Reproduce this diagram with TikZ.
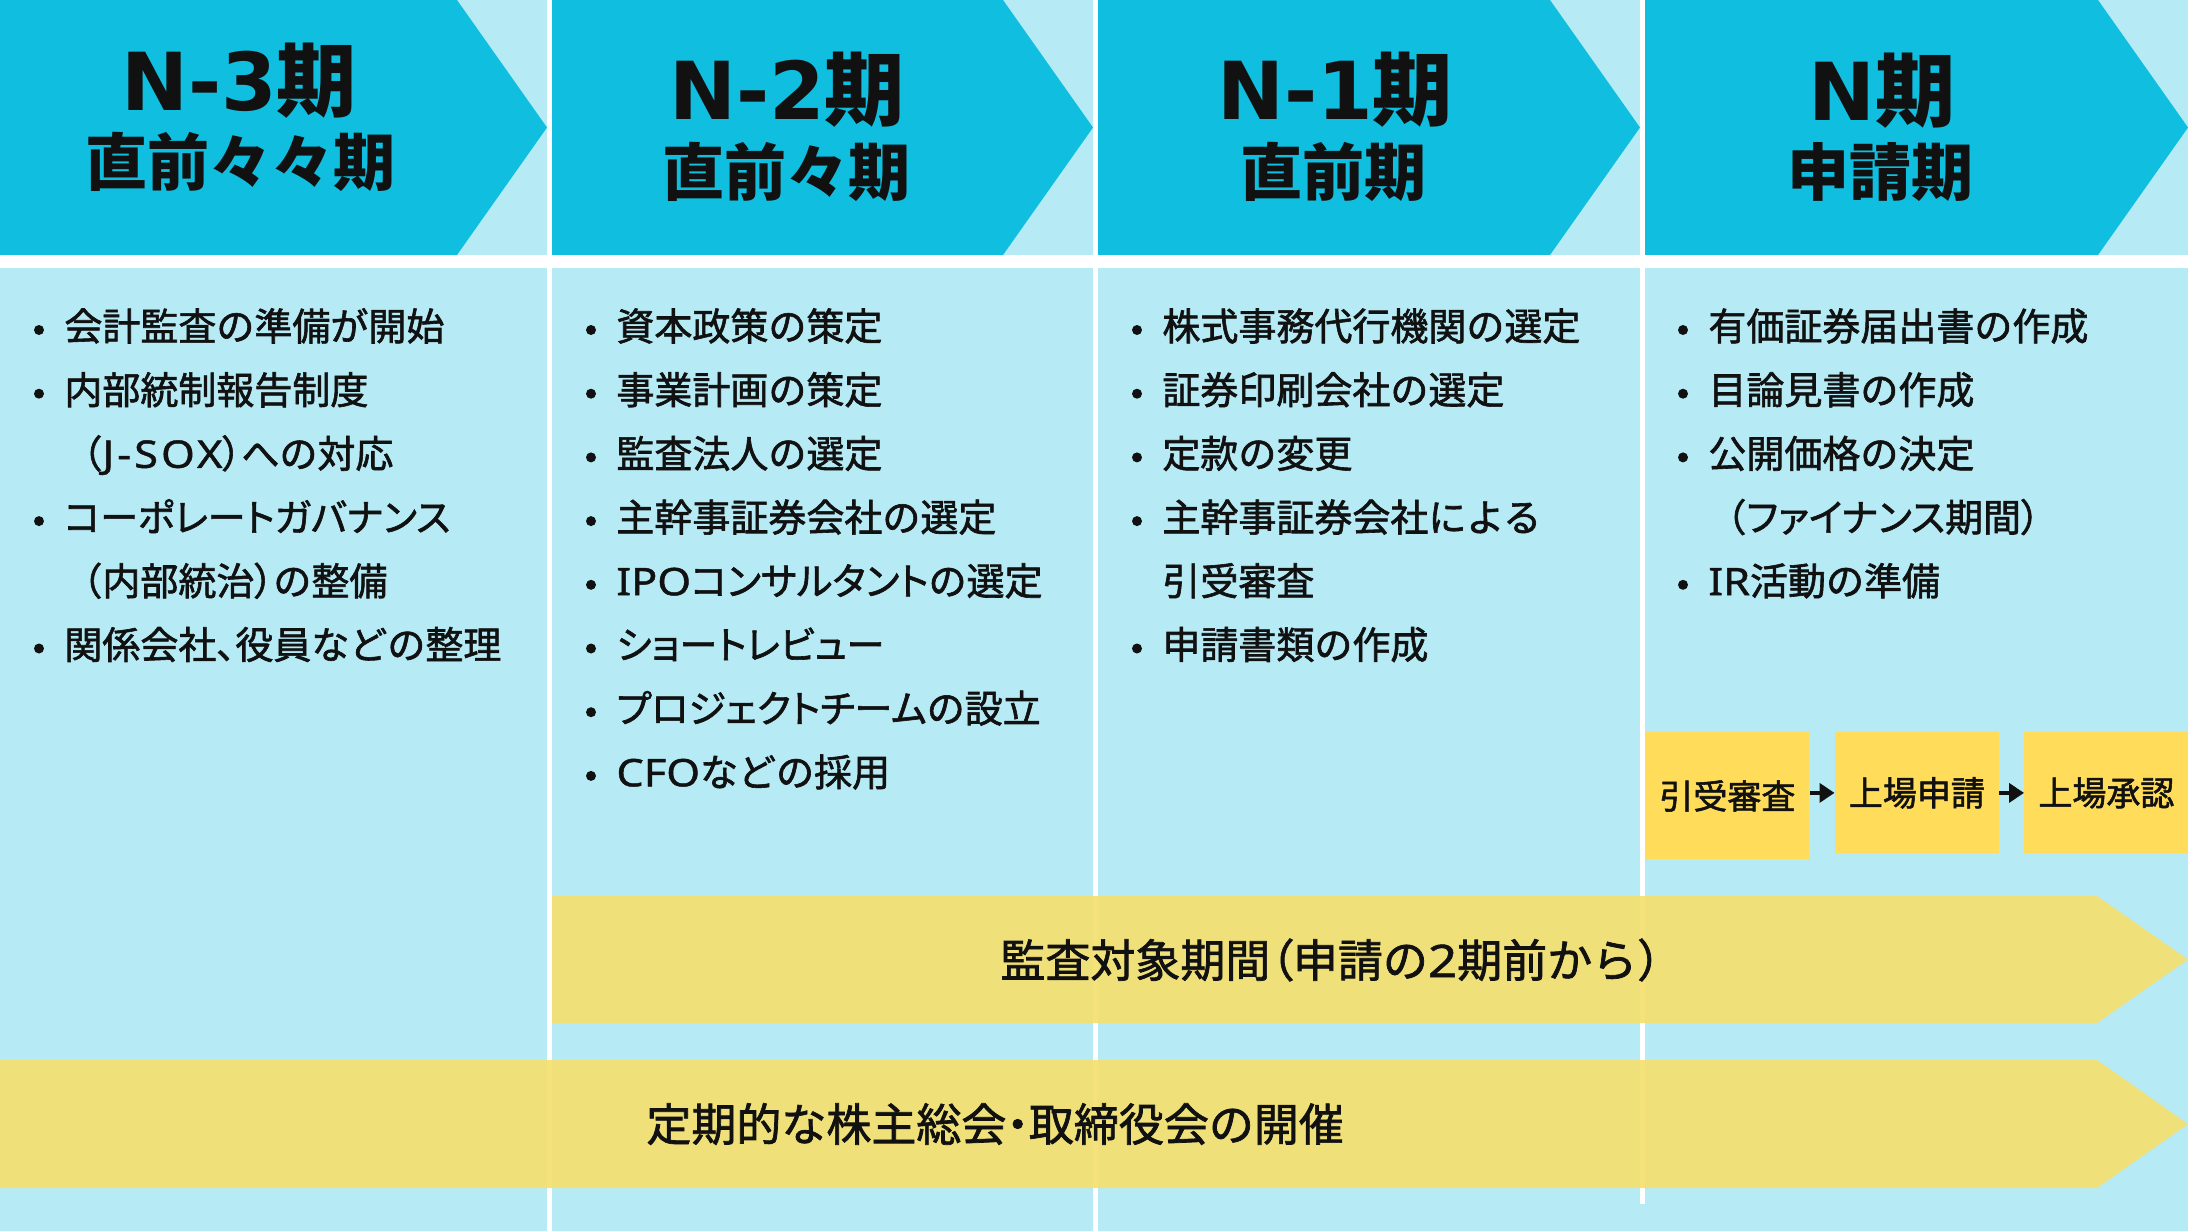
\documentclass[tikz,border=0pt]{standalone}
\usepackage{fontspec}
\usetikzlibrary{arrows.meta}
\newfontfamily\jphd{Noto Sans CJK JP}
\newfontfamily\jpbd{Noto Sans CJK JP}[FakeBold=1.6]
\newfontfamily\jpk{Noto Sans CJK JP}[FakeBold=1.6, RawFeature=+palt]
\newfontfamily\lath{DejaVu Sans}
\newfontfamily\latb{Noto Sans}[FakeBold=1.2, FakeStretch=1.14]
\newfontfamily\latw{Noto Sans}[FakeBold=1.2, FakeStretch=1.14, LetterSpace=8]
\newcommand\kk[1]{{\jpk#1}}
\newcommand\lb[1]{{\latb#1}}
\newcommand\lw[1]{{\latw#1}}
\newcommand\lh[1]{{\lath\bfseries#1}}
\definecolor{hdr}{HTML}{10BFDF}
\definecolor{bgl}{HTML}{B6EAF4}
\definecolor{barY}{RGB}{245,224,112}
\definecolor{boxY}{HTML}{FFDC5A}
\definecolor{ink}{HTML}{111111}
\tikzset{
  hdone/.style={font=\jphd\bfseries\fontsize{40pt}{40pt}\selectfont, text=ink, inner sep=0pt},
  hdtwo/.style={font=\jphd\bfseries\fontsize{31pt}{31pt}\selectfont, text=ink, inner sep=0pt},
  body/.style={font=\jpbd\fontsize{19pt}{19pt}\selectfont, text=ink, inner sep=0pt, anchor=west, text height=16.7pt, text depth=2.3pt},
  bartext/.style={font=\jpbd\fontsize{22.5pt}{22.5pt}\selectfont, text=ink, inner sep=0pt, anchor=west},
  sbox/.style={fill=boxY, inner sep=0pt, anchor=north west, minimum width=82pt, font=\jpbd\fontsize{17pt}{17pt}\selectfont, text=ink},
  arr/.style={draw=ink, line width=2pt, -{Triangle[length=7.5pt,width=9.5pt]}},
  barshape/.style={fill=barY, fill opacity=0.92},
  dot/.style={fill=ink}
}
\begin{document}
\begin{tikzpicture}[x=0.5pt,y=-0.5pt]
\useasboundingbox (0,0) rectangle (2188,1231);
\fill[bgl] (0,0) rectangle (2188,1231);
% header chevrons
\foreach \L/\R in {0/547,552/1093,1098/1640,1645/2188}
  \fill[hdr] (\L,0) -- ({\R-90},0) -- (\R,127.5) -- ({\R-90},255) -- (\L,255) -- cycle;
% white separators
\fill[white] (0,255) rectangle (2188,268);
\fill[white] (547,0) rectangle (552,1231);
\fill[white] (1093,0) rectangle (1098,1231);
\fill[white] (1640,0) rectangle (1645,1204);
% long yellow bars
\fill[barshape] (552,896) -- (2097,896) -- (2188,959.5) -- (2097,1023) -- (552,1023) -- cycle;
\fill[barshape] (0,1060) -- (2097,1060) -- (2188,1124) -- (2097,1188) -- (0,1188) -- cycle;
\node[bartext] (bar1) at (1000,960) {監査対象期間\kk{（}申請の\lb{2}期前から）};
\node[bartext] (bar2) at (646,1124) {定期的な株主総会\kk{・}取締役会の開催};
% header texts
\node[hdone] (h1a) at (239,81) {\lh{N-3}期};
\node[hdtwo] (h1b) at (240,162) {直前々々期};
\node[hdone] (h2a) at (787,90) {\lh{N-2}期};
\node[hdtwo] (h2b) at (786,172) {直前々期};
\node[hdone] (h3a) at (1335,90) {\lh{N-1}期};
\node[hdtwo] (h3b) at (1333,172) {直前期};
\node[hdone] (h4a) at (1882,91) {\lh{N}期};
\node[hdtwo] (h4b) at (1880,172) {申請期};
% column lists
\foreach \b/\t [count=\i] in {1/会計監査の準備が開始, 1/内部統制報告制度, 0/（\lw{J-SOX}\kk{）}への対応, 1/\kk{コーポレートガバナンス}, 0/（内部統治\kk{）}の整備, 1/関係会社\kk{、}役員などの整理}{
  \node[body] (a\i) at (64,{326+63.7*(\i-1)}) {\t};
  \ifnum\b=1 \fill[dot] (39,{330+63.7*(\i-1)}) circle[radius=2.5pt]; \fi
}
\foreach \b/\t [count=\i] in {1/資本政策の策定, 1/事業計画の策定, 1/監査法人の選定, 1/主幹事証券会社の選定, 1/\lb{IPO}\kk{コンサルタント}の選定, 1/\kk{ショートレビュー}, 1/\kk{プロジェクトチーム}の設立, 1/\lb{CFO}などの採用}{
  \node[body] (b\i) at (616,{326+63.7*(\i-1)}) {\t};
  \ifnum\b=1 \fill[dot] (591,{330+63.7*(\i-1)}) circle[radius=2.5pt]; \fi
}
\foreach \b/\t [count=\i] in {1/株式事務代行機関の選定, 1/証券印刷会社の選定, 1/定款の変更, 1/主幹事証券会社による, 0/引受審査, 1/申請書類の作成}{
  \node[body] (c\i) at (1162,{326+63.7*(\i-1)}) {\t};
  \ifnum\b=1 \fill[dot] (1137,{330+63.7*(\i-1)}) circle[radius=2.5pt]; \fi
}
\foreach \b/\t [count=\i] in {1/有価証券届出書の作成, 1/目論見書の作成, 1/公開価格の決定, 0/（\kk{ファイナンス}期間\kk{）}, 1/\lb{IR}活動の準備}{
  \node[body] (d\i) at (1708,{326+63.7*(\i-1)}) {\t};
  \ifnum\b=1 \fill[dot] (1683,{330+63.7*(\i-1)}) circle[radius=2.5pt]; \fi
}
% small process boxes
\node[sbox, minimum height=63.5pt] (s1) at (1645,732) {引受審査};
\node[sbox, minimum height=60.5pt] (s2) at (1834.5,732) {上場申請};
\node[sbox, minimum height=60.5pt] (s3) at (2024,732) {上場承認};
\draw[arr] (s1.east |- s2.west) -- (s2.west);
\draw[arr] (s2.east) -- (s3.west);
\end{tikzpicture}
\end{document}
